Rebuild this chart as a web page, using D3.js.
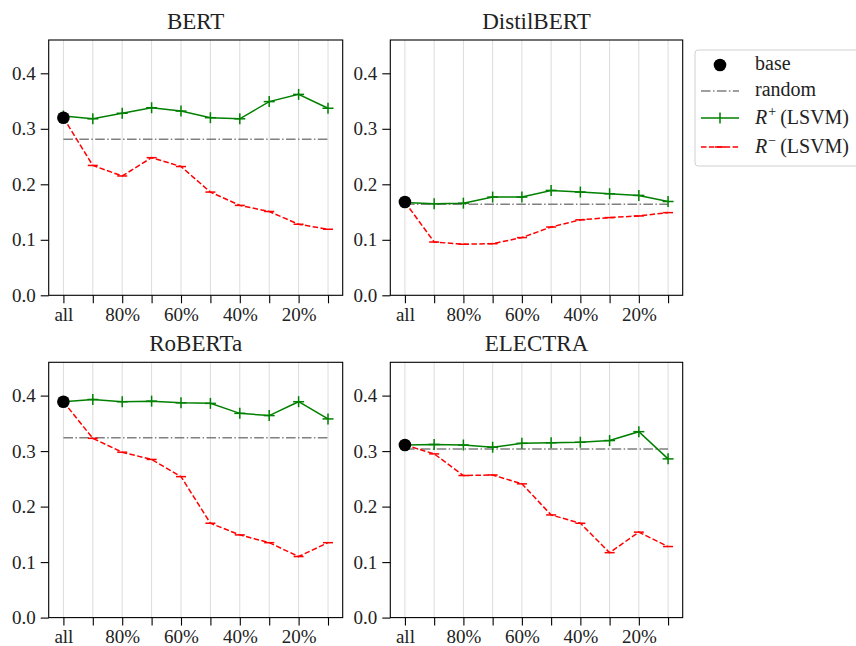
<!DOCTYPE html>
<html lang="en">
<head>
<meta charset="utf-8">
<title>R+ / R- LSVM</title>
<script src="https://cdn.jsdelivr.net/npm/d3@7"></script>
<style>
  body { margin: 0; background: #fff; }
  svg text { font-family: "Liberation Serif", "DejaVu Serif", serif !important; fill: #222; }
  .domain { stroke: none; }
</style>
</head>
<body>
<script>
// data
var xLabels = ["all", "", "80%", "", "60%", "", "40%", "", "20%", ""];
var models = ["BERT", "DistilBERT", "RoBERTa", "ELECTRA"];
var baseVals = [0.320, 0.168, 0.389, 0.311];
var randomVals = [0.281, 0.164, 0.324, 0.304];

var bertPlus    = [0.323, 0.318, 0.328, 0.338, 0.332, 0.320, 0.318, 0.349, 0.362, 0.337];
var bertMinus   = [0.320, 0.234, 0.215, 0.248, 0.232, 0.186, 0.162, 0.151, 0.128, 0.119];
var distilPlus  = [0.167, 0.165, 0.166, 0.177, 0.177, 0.189, 0.186, 0.183, 0.180, 0.169];
var distilMinus = [0.168, 0.096, 0.092, 0.093, 0.104, 0.123, 0.136, 0.140, 0.143, 0.149];
var robertaPlus = [0.389, 0.393, 0.389, 0.390, 0.387, 0.386, 0.368, 0.364, 0.389, 0.358];
var robertaMinus= [0.389, 0.323, 0.298, 0.285, 0.254, 0.170, 0.149, 0.135, 0.110, 0.135];
var electraPlus = [0.311, 0.312, 0.311, 0.307, 0.314, 0.315, 0.316, 0.319, 0.335, 0.286];
var electraMinus= [0.311, 0.295, 0.256, 0.257, 0.241, 0.185, 0.170, 0.117, 0.154, 0.128];

var yTicks = [0, 0.1, 0.2, 0.3, 0.4];

var plusSeries = [bertPlus, distilPlus, robertaPlus, electraPlus];
var minusSeries = [bertMinus, distilMinus, robertaMinus, electraMinus];

var width = 856, height = 646;
var serif = '"Liberation Serif", "DejaVu Serif", serif';
var svg = d3.select("body").append("svg")
    .attr("width", width).attr("height", height);

// panel boxes
var colX = [48.7, 390.3], colW = [294, 292.4];
var rowY = [40, 362.3], panelH = 255.3;

var green = "#008000", red = "#ff0000", gray = "#808080";

models.forEach(function(name, i) {
    var c = i % 2, r = Math.floor(i / 2);
    var x0 = colX[c], y0 = rowY[r], w = colW[c];

    var x = d3.scaleLinear().domain([-0.5, 9.5]).range([x0, x0 + w]);
    var y = d3.scaleLinear().domain([0, 0.46]).range([y0 + panelH, y0]);
    var idx = d3.range(xLabels.length);

    var g = svg.append("g");

    // vertical grid
    g.selectAll("line.grid").data(idx).enter().append("line")
        .attr("x1", function(d) { return x(d); }).attr("x2", function(d) { return x(d); })
        .attr("y1", y0).attr("y2", y0 + panelH)
        .attr("stroke", "#dcdcdc").attr("stroke-width", 1);

    // random
    g.append("line")
        .attr("x1", x(0)).attr("x2", x(9))
        .attr("y1", y(randomVals[i])).attr("y2", y(randomVals[i]))
        .attr("stroke", gray).attr("stroke-width", 1.5)
        .attr("stroke-dasharray", "9.6,2.4,1.5,2.4");

    var line = d3.line().x(function(d, k) { return x(k); }).y(function(d) { return y(d); });

    // R-
    g.append("path").datum(minusSeries[i])
        .attr("d", line).attr("fill", "none")
        .attr("stroke", red).attr("stroke-width", 1.5)
        .attr("stroke-dasharray", "5.5,2.4");
    g.selectAll("line.mm").data(minusSeries[i]).enter().append("line")
        .attr("x1", function(d, k) { return x(k) - 5; }).attr("x2", function(d, k) { return x(k) + 5; })
        .attr("y1", function(d) { return y(d); }).attr("y2", function(d) { return y(d); })
        .attr("stroke", red).attr("stroke-width", 1.5);

    // R+
    g.append("path").datum(plusSeries[i])
        .attr("d", line).attr("fill", "none")
        .attr("stroke", green).attr("stroke-width", 1.5);
    var pm = g.selectAll("g.pm").data(plusSeries[i]).enter().append("g")
        .attr("transform", function(d, k) { return "translate(" + x(k) + "," + y(d) + ")"; });
    pm.append("line").attr("x1", -5.5).attr("x2", 5.5).attr("stroke", green).attr("stroke-width", 1.5);
    pm.append("line").attr("y1", -5.5).attr("y2", 5.5).attr("stroke", green).attr("stroke-width", 1.5);

    // base
    g.append("circle")
        .attr("cx", x(0)).attr("cy", y(baseVals[i])).attr("r", 6.3)
        .attr("fill", "#000");

    // frame
    g.append("rect")
        .attr("x", x0).attr("y", y0).attr("width", w).attr("height", panelH)
        .attr("fill", "none").attr("stroke", "#000").attr("stroke-width", 1.1);

    // axes
    var xAxis = d3.axisBottom(x).tickValues(idx)
        .tickFormat(function(d) { return xLabels[d]; })
        .tickSize(8).tickPadding(4);
    var gx = g.append("g").attr("transform", "translate(0," + (y0 + panelH) + ")").call(xAxis)
        .attr("font-family", serif).attr("font-size", 19);
    gx.selectAll("line").attr("stroke", "#000").attr("stroke-width", 1.1);

    var yAxis = d3.axisLeft(y).tickValues(yTicks)
        .tickFormat(d3.format(".1f")).tickSize(8).tickPadding(5);
    var gy = g.append("g").attr("transform", "translate(" + x0 + ",0)").call(yAxis)
        .attr("font-family", serif).attr("font-size", 19);
    gy.selectAll("line").attr("stroke", "#000").attr("stroke-width", 1.1);

    // title
    g.append("text")
        .attr("x", x0 + w / 2).attr("y", y0 - 11)
        .attr("text-anchor", "middle")
        .attr("font-family", serif)
        .style("font-size", "23px")
        .text(name);
});

// legend
var lg = svg.append("g").attr("font-family", serif);
lg.append("rect")
    .attr("x", 695).attr("y", 50).attr("width", 175).attr("height", 116)
    .attr("rx", 3).attr("fill", "#fff")
    .attr("stroke", "#d0d0d0").attr("stroke-width", 1);

var hx1 = 701, hx2 = 739, hc = 720, tx = 755;
var ly = [65, 91, 118, 147];

lg.append("circle").attr("cx", hc).attr("cy", ly[0]).attr("r", 6.3).attr("fill", "#000");
lg.append("line").attr("x1", hx1).attr("x2", hx2).attr("y1", ly[1]).attr("y2", ly[1])
    .attr("stroke", gray).attr("stroke-width", 1.5).attr("stroke-dasharray", "9.6,2.4,1.5,2.4");
lg.append("line").attr("x1", hx1).attr("x2", hx2).attr("y1", ly[2]).attr("y2", ly[2])
    .attr("stroke", green).attr("stroke-width", 1.5);
lg.append("line").attr("x1", hc).attr("x2", hc).attr("y1", ly[2] - 5.5).attr("y2", ly[2] + 5.5)
    .attr("stroke", green).attr("stroke-width", 1.5);
lg.append("line").attr("x1", hx1).attr("x2", hx2).attr("y1", ly[3]).attr("y2", ly[3])
    .attr("stroke", red).attr("stroke-width", 1.5).attr("stroke-dasharray", "5.5,2.4");
lg.append("line").attr("x1", hc - 5).attr("x2", hc + 5).attr("y1", ly[3]).attr("y2", ly[3])
    .attr("stroke", red).attr("stroke-width", 1.5);

lg.append("text").attr("x", tx).attr("y", ly[0] + 5).style("font-size", "20px").text("base");
lg.append("text").attr("x", tx).attr("y", ly[1] + 5).style("font-size", "20px").text("random");
["+", "\u2212"].forEach(function(sup, k) {
    var t = lg.append("text").attr("x", tx).attr("y", ly[2 + k] + 6).style("font-size", "20px");
    t.append("tspan").style("font-style", "italic").text("R");
    t.append("tspan").attr("dx", 1).attr("dy", -8).style("font-size", "14px").text(sup);
    t.append("tspan").attr("dx", 4).attr("dy", 8).text("(LSVM)");
});
</script>
</body>
</html>
